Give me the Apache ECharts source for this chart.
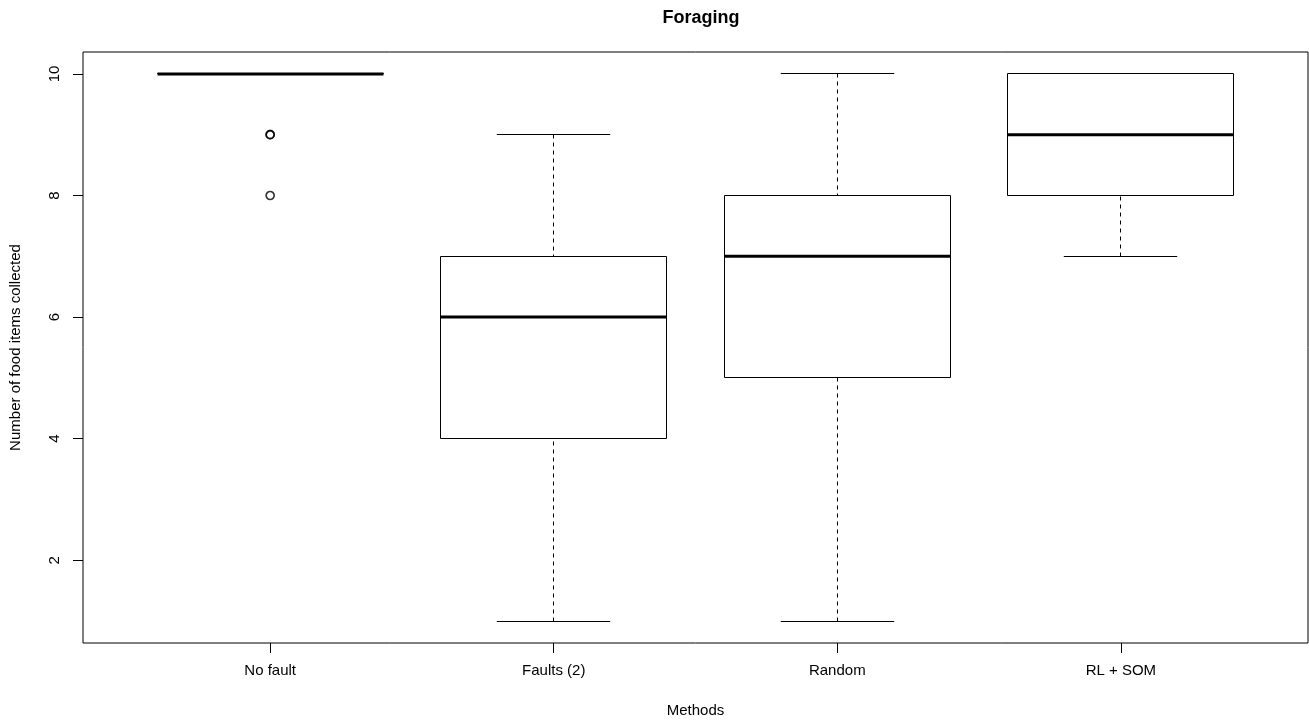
<!DOCTYPE html>
<html>
<head>
<meta charset="utf-8">
<script src="https://cdn.jsdelivr.net/npm/echarts@6/dist/echarts.min.js"></script>
<style>
  html, body { margin: 0; padding: 0; background: #fff; }
  #chart { width: 1309px; height: 721px; }
</style>
</head>
<body>
<div id="chart"></div>
<script>
// ---- data ----
var categories = ['No fault', 'Faults (2)', 'Random', 'RL + SOM'];
var lowerWhisker = [10, 1, 1, 7];
var lowerQuartile = [10, 4, 5, 8];
var medians = [10, 6, 7, 9];
var upperQuartile = [10, 7, 8, 10];
var upperWhisker = [10, 9, 10, 10];
var outlierGroup = [1, 1, 1];
var outlierValue = [9, 9, 8];
var yTicks = [2, 4, 6, 8, 10];
var xTicks = [1, 2, 3, 4];

var FONT = 'Liberation Sans, Arial, Helvetica, sans-serif';

var boxData = categories.map(function (c, i) {
  return [i + 1, lowerWhisker[i], lowerQuartile[i], medians[i], upperQuartile[i], upperWhisker[i]];
});
var outlierData = outlierGroup.map(function (g, i) { return [g, outlierValue[i]]; });

function crisp(v) { return Math.round(v - 0.5) + 0.5; }

function renderBox(params, api) {
  var x = api.value(0);
  var lo = api.value(1), q1 = api.value(2), md = api.value(3), q3 = api.value(4), hi = api.value(5);
  var cx = crisp(api.coord([x, md])[0]);
  var halfW = api.size([0.8, 0])[0] / 2;
  var capHalf = halfW / 2;
  var yLo = crisp(api.coord([x, lo])[1]);
  var yQ1 = crisp(api.coord([x, q1])[1]);
  var yMd = api.coord([x, md])[1];
  var yQ3 = crisp(api.coord([x, q3])[1]);
  var yHi = crisp(api.coord([x, hi])[1]);
  var left = crisp(cx - halfW), right = crisp(cx + halfW);
  var stroke = '#000';
  var children = [];
  // whiskers (dashed), drawn from whisker end towards box
  children.push({ type: 'line', shape: { x1: cx, y1: yHi, x2: cx, y2: yQ3 },
    style: { stroke: stroke, lineWidth: 1, lineDash: [4, 4] } });
  children.push({ type: 'line', shape: { x1: cx, y1: yLo, x2: cx, y2: yQ1 },
    style: { stroke: stroke, lineWidth: 1, lineDash: [4, 4] } });
  // staples
  children.push({ type: 'line', shape: { x1: cx - capHalf, y1: yHi, x2: cx + capHalf, y2: yHi },
    style: { stroke: stroke, lineWidth: 1 } });
  children.push({ type: 'line', shape: { x1: cx - capHalf, y1: yLo, x2: cx + capHalf, y2: yLo },
    style: { stroke: stroke, lineWidth: 1 } });
  // box
  children.push({ type: 'rect', shape: { x: left, y: yQ3, width: right - left, height: yQ1 - yQ3 },
    style: { fill: 'none', stroke: stroke, lineWidth: 1 } });
  // median
  children.push({ type: 'line', shape: { x1: left, y1: yMd, x2: right, y2: yMd },
    style: { stroke: stroke, lineWidth: 3 } });
  return { type: 'group', children: children };
}

var chart = echarts.init(document.getElementById('chart'), null, { renderer: 'canvas' });
chart.setOption({
  animation: false,
  backgroundColor: '#fff',
  title: {
    text: 'Foraging',
    left: 696,
    top: 4,
    textAlign: 'center',
    textStyle: { fontFamily: FONT, fontSize: 18, fontWeight: 'bold', color: '#000' }
  },
  grid: {
    left: 83, right: 1, top: 52, bottom: 78,
    show: true, borderColor: '#000', borderWidth: 1,
    containLabel: false,
    outerBoundsMode: 'none'
  },
  xAxis: {
    type: 'value',
    min: 0.34, max: 4.66,
    name: 'Methods',
    nameLocation: 'middle',
    nameGap: 60,
    nameTextStyle: { fontFamily: FONT, fontSize: 15, color: '#000' },
    axisLine: { show: false },
    splitLine: { show: false },
    axisTick: { show: true, length: 10, customValues: xTicks, lineStyle: { color: '#000', width: 1 } },
    axisLabel: {
      customValues: xTicks,
      margin: 20,
      fontFamily: FONT, fontSize: 15, color: '#000',
      formatter: function (v) { return categories[Math.round(v) - 1] || ''; }
    }
  },
  yAxis: {
    type: 'value',
    min: 0.64, max: 10.36,
    name: 'Number of food items collected',
    nameLocation: 'middle',
    nameRotate: 90,
    nameGap: 60,
    nameTextStyle: { fontFamily: FONT, fontSize: 15, color: '#000' },
    axisLine: { show: false },
    splitLine: { show: false },
    axisTick: { show: true, length: 10, customValues: yTicks, lineStyle: { color: '#000', width: 1 } },
    axisLabel: {
      customValues: yTicks,
      rotate: 90,
      margin: 21,
      fontFamily: FONT, fontSize: 15, color: '#000'
    }
  },
  series: [
    {
      type: 'custom',
      renderItem: renderBox,
      data: boxData,
      encode: { x: 0, y: [1, 2, 3, 4, 5] },
      clip: false,
      z: 2
    },
    {
      type: 'scatter',
      data: outlierData,
      symbol: 'circle',
      symbolSize: 8,
      itemStyle: { color: 'rgba(0,0,0,0)', borderColor: '#000', borderWidth: 1.7 },
      z: 3
    }
  ]
});
</script>
</body>
</html>
